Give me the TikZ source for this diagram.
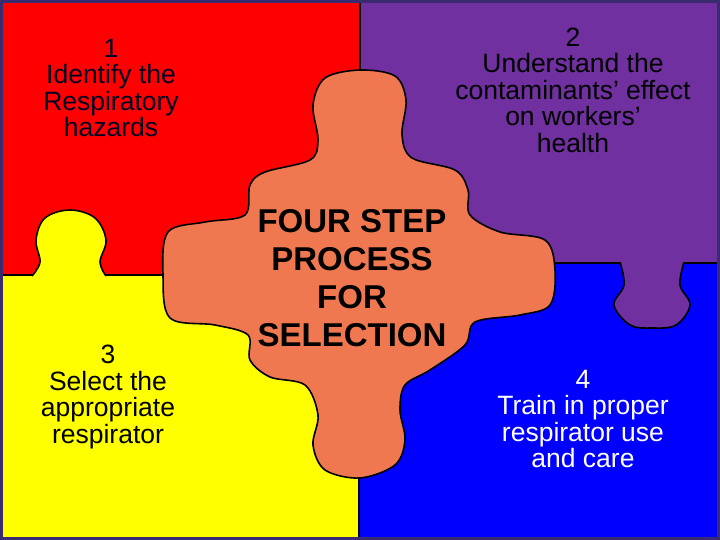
\documentclass[tikz,border=0pt]{standalone}
\usepackage{fontspec}
\setmainfont{Liberation Sans}
\begin{document}
\begin{tikzpicture}[x=1pt,y=-1pt,
  edge/.style={draw=black,line width=1.6pt,line join=round},
  lbl/.style={align=center,font=\fontsize{26.5}{26.5}\selectfont,inner sep=0pt},
  big/.style={align=center,font=\fontsize{33}{38}\selectfont\bfseries,inner sep=0pt}]
\useasboundingbox (0,0) rectangle (720,540);
\definecolor{cred}{HTML}{FF0000}
\definecolor{cpur}{HTML}{7030A0}
\definecolor{cyel}{HTML}{FFFF00}
\definecolor{cblu}{HTML}{0000FF}
\definecolor{corg}{HTML}{F07850}
\definecolor{cfrm}{HTML}{3A2A70}
\fill[cred] (0,0) rectangle (360,275);
\fill[cpur] (360,0) rectangle (720,263);
\fill[cyel] (0,275) rectangle (359,540);
\fill[cblu] (359,263) rectangle (720,540);
\draw[edge] (0,275) -- (360,275);
\draw[edge] (360,263) -- (720,263);
\draw[edge] (360,0) -- (360,275);
\draw[edge] (359,263) -- (359,540);
% yellow tab
\draw[edge,fill=cyel] plot[smooth,tension=0.6] coordinates {(32,276) (40,262) (36,240) (45,218) (70,210) (95,218) (106,240) (100,262) (106,276)};
% purple tab
\draw[edge,fill=cpur] plot[smooth,tension=0.6] coordinates {(620,262) (624,285) (614,305) (630,325) (652,328) (676,325) (690,305) (680,285) (684,262)};
% orange blob
\draw[edge,fill=corg] plot[smooth cycle,tension=0.55] coordinates {
(360,70) (395,76) (406,100) (402,135) (412,158) (455,170) (468,190) (470,215) (500,232) (545,240) (555,270) (550,305) (520,315) (475,322) (465,345) (430,370) (405,385) (400,410) (405,440) (395,465) (360,478) (325,470) (313,445) (318,415) (305,385) (270,377) (250,360) (248,335) (215,325) (170,318) (163,275) (168,232) (205,222) (245,215) (250,185) (265,172) (310,160) (318,140) (313,105) (325,78)};
\draw[cfrm,line width=3pt] (1.5,1.5) rectangle (718.5,538.5);
\node[lbl,text=black!85!blue] (t1) at (111,88) {1\\Identify the\\Respiratory\\hazards};
\node[lbl] (t2) at (573,90) {2\\Understand the\\contaminants’ effect\\on workers’\\health};
\node[lbl] (t3) at (108,397) {3\\Select the\\appropriate\\respirator};
\node[lbl,text=white] (t4) at (583,419) {4\\Train in proper\\respirator use\\and care};
\node[big] (c) at (352,278) {FOUR STEP\\PROCESS\\FOR\\SELECTION};
\end{tikzpicture}
\end{document}
